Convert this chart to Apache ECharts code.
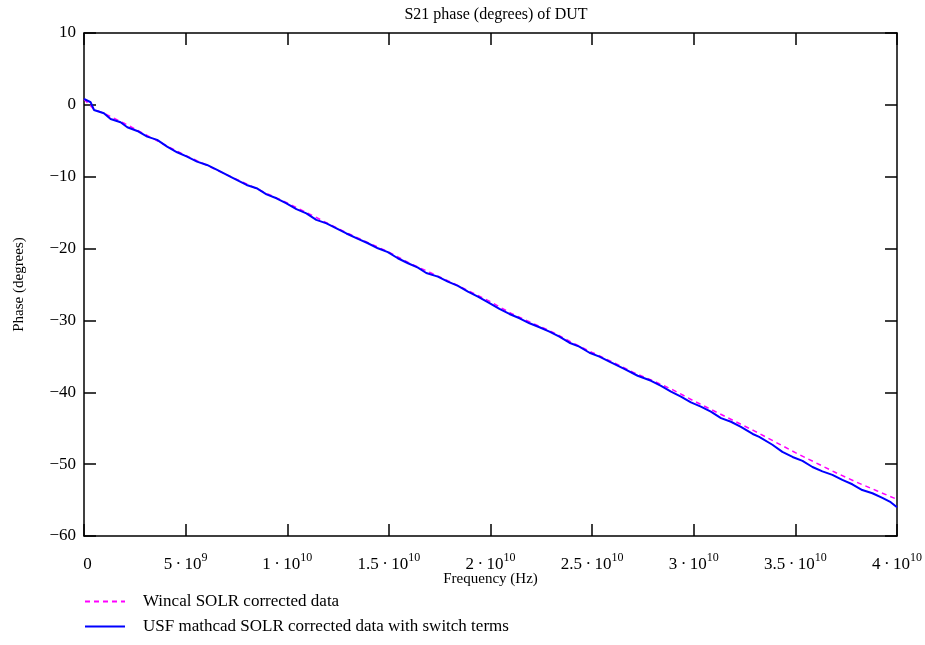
<!DOCTYPE html>
<html>
<head>
<meta charset="utf-8">
<script src="https://cdn.jsdelivr.net/npm/echarts@6/dist/echarts.min.js"></script>
<style>html,body{margin:0;padding:0;background:#fff;}#c{width:925px;height:645px;}</style>
</head>
<body>
<div id="c"></div>
<script>
// Frequency in GHz, phase in degrees
const usfFreqGHz = [0,0.33,0.49,0.98,1.31,1.8,2.13,2.62,3.11,3.6,4.09,4.58,5.07,5.56,6.05,6.55,7.34,8.0,8.49,8.98,9.47,9.96,10.45,10.94,11.43,11.93,12.42,12.91,13.48,13.97,14.46,14.95,15.44,15.94,16.43,16.84,17.41,17.9,18.4,18.89,19.38,19.95,20.44,20.93,21.43,21.92,22.41,22.9,23.39,23.88,24.37,24.87,25.36,25.85,26.58,27.24,27.9,28.39,28.88,29.37,29.86,30.35,30.84,31.34,31.83,32.32,32.9,33.22,33.87,34.36,34.86,35.35,35.84,36.33,36.82,37.31,37.8,38.29,38.79,39.28,39.69,40.0];
const usfPhase = [0.82,0.36,-0.71,-1.17,-1.96,-2.42,-3.12,-3.63,-4.42,-4.88,-5.81,-6.6,-7.2,-7.9,-8.36,-9.06,-10.2,-11.15,-11.6,-12.45,-13.0,-13.7,-14.5,-15.1,-16.0,-16.5,-17.2,-17.9,-18.66,-19.26,-19.96,-20.5,-21.35,-22.04,-22.65,-23.4,-23.9,-24.6,-25.2,-26.0,-26.7,-27.6,-28.4,-29.1,-29.7,-30.4,-30.95,-31.56,-32.26,-33.1,-33.65,-34.5,-35.04,-35.74,-36.75,-37.7,-38.4,-39.1,-39.9,-40.6,-41.4,-42.0,-42.7,-43.6,-44.1,-44.8,-45.8,-46.2,-47.3,-48.3,-49.0,-49.55,-50.4,-51.0,-51.5,-52.2,-52.8,-53.6,-54.05,-54.7,-55.3,-56.0];

const wincalFreqGHz = [0,0.5,1,2,3,4,5,6,7,8,9,10,11,12,13,14,15,16,17,18,19,20,21,22,23,24,25,26,27,28,29,30,31,32,33,34,35,36,37,38,39,40];
const wincalPhase = [0.8,-0.65,-1.2,-2.6,-4.1,-5.6,-7.05,-8.35,-9.7,-11.0,-12.35,-13.65,-15.05,-16.5,-17.9,-19.2,-20.5,-22.0,-23.3,-24.6,-26.0,-27.4,-29.0,-30.3,-31.55,-33.05,-34.45,-35.8,-37.2,-38.4,-39.7,-41.2,-42.6,-44.0,-45.4,-46.9,-48.4,-49.8,-51.2,-52.5,-53.7,-54.9];

const xTickMantissa = ['0','5','1','1.5','2','2.5','3','3.5','4'];
const xTickExponent = [' ','9','10','10','10','10','10','10','10'];
const yTickLabels = ['\u221260','\u221250','\u221240','\u221230','\u221220','\u221210','0','10'];

const seriesNames = ['Wincal SOLR corrected data','USF mathcad SOLR corrected data with switch terms'];
const FONT = '"Liberation Serif", "Times New Roman", serif';

const toPairs = (f, p) => f.map((v, i) => [v * 1e9, p[i]]);

const chart = echarts.init(document.getElementById('c'), null, {renderer: 'canvas'});

const xLabelFormatter = (val) => {
  const i = Math.round(val / 5e9);
  if (xTickMantissa[i] === '0') return '{z|0}{s|' + xTickExponent[i] + '}';
  return '{b|' + xTickMantissa[i] + '\u2009\u00b7\u200910}{s|' + xTickExponent[i] + '}';
};
const yLabelFormatter = (val) => yTickLabels[Math.round((val + 60) / 10)];

const axisLineStyle = {show: true, onZero: false, lineStyle: {color: '#000', width: 1.5}};
const tickStyle = {show: true, inside: true, length: 12, lineStyle: {color: '#000', width: 1.5}};

chart.setOption({
  animation: false,
  backgroundColor: '#fff',
  title: {
    text: 'S21 phase (degrees) of DUT',
    left: 491, top: 2, textAlign: 'center',
    textStyle: {fontFamily: FONT, fontSize: 16, fontWeight: 'normal', color: '#000'}
  },
  grid: {left: 84, right: 27, top: 33, bottom: 109, show: false},
  legend: {
    orient: 'vertical', left: 84, top: 593, padding: 0, itemWidth: 40, itemHeight: 14, itemGap: 8,
    data: seriesNames,
    itemStyle: {opacity: 0},
    textStyle: {fontFamily: FONT, fontSize: 17, color: '#000', padding: [0, 0, 0, 13]}
  },
  xAxis: [{
    type: 'value', min: 0, max: 4e10, interval: 5e9, position: 'bottom',
    name: 'Frequency (Hz)', nameLocation: 'middle', nameGap: 36, nameMoveOverlap: false,
    nameTextStyle: {fontFamily: FONT, fontSize: 15, color: '#000'},
    axisLine: axisLineStyle, axisTick: tickStyle, splitLine: {show: false},
    axisLabel: {
      formatter: xLabelFormatter, margin: 16,
      rich: {
        b: {fontFamily: FONT, fontSize: 17, color: '#000'},
        z: {fontFamily: FONT, fontSize: 17, color: '#000', padding: [0, 0, 0, 10]},
        s: {fontFamily: FONT, fontSize: 12, color: '#000', padding: [0, 0, 14, 0]}
      }
    }
  }, {
    type: 'value', min: 0, max: 4e10, interval: 5e9, position: 'top',
    axisLine: axisLineStyle, axisTick: tickStyle, splitLine: {show: false}, axisLabel: {show: false}
  }],
  yAxis: [{
    type: 'value', min: -60, max: 10, interval: 10, position: 'left',
    name: 'Phase (degrees)', nameLocation: 'middle', nameGap: 57, nameMoveOverlap: false,
    nameTextStyle: {fontFamily: FONT, fontSize: 15, color: '#000'},
    axisLine: axisLineStyle, axisTick: tickStyle, splitLine: {show: false},
    axisLabel: {formatter: yLabelFormatter, margin: 8, fontFamily: FONT, fontSize: 17, color: '#000'}
  }, {
    type: 'value', min: -60, max: 10, interval: 10, position: 'right',
    axisLine: axisLineStyle, axisTick: tickStyle, splitLine: {show: false}, axisLabel: {show: false}
  }],
  series: [{
    name: seriesNames[0], type: 'line', data: toPairs(wincalFreqGHz, wincalPhase),
    showSymbol: false, symbol: 'none',
    lineStyle: {color: '#ff00ff', width: 1.5, type: [5, 4]},
    itemStyle: {color: '#ff00ff'}
  }, {
    name: seriesNames[1], type: 'line', data: toPairs(usfFreqGHz, usfPhase),
    showSymbol: false, symbol: 'none',
    lineStyle: {color: '#0000ff', width: 2},
    itemStyle: {color: '#0000ff'}
  }]
});
</script>
</body>
</html>
